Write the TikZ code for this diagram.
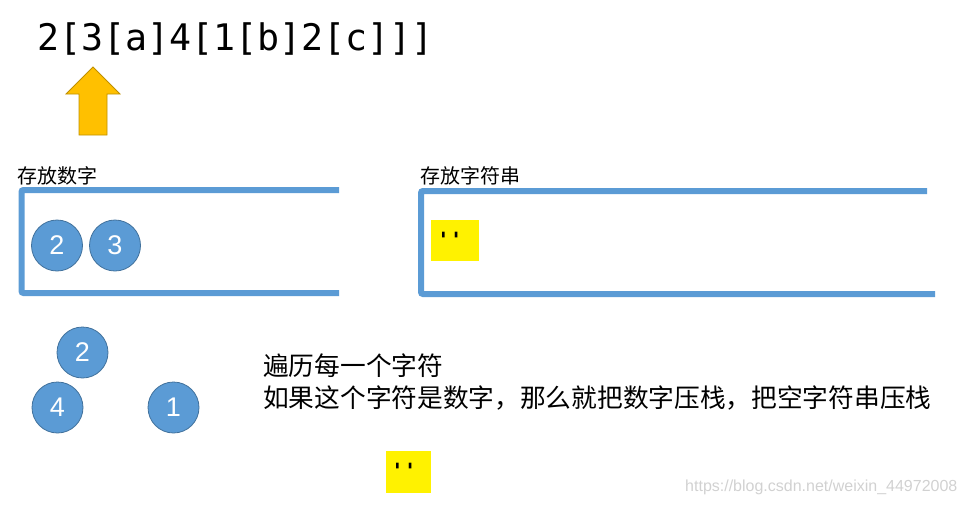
\documentclass[tikz,border=0pt]{standalone}
\usepackage{fontspec}
\setmainfont{Noto Sans CJK SC}
\setsansfont{Liberation Sans}
\setmonofont{DejaVu Sans Mono}
\usetikzlibrary{positioning}
\definecolor{stackblue}{HTML}{5B9BD5}
\definecolor{circedge}{HTML}{41719C}
\definecolor{arrowfill}{HTML}{FFC000}
\definecolor{arrowedge}{HTML}{BF9000}
\tikzset{
	numcirc/.style={circle, fill=stackblue, draw=circedge, line width=0.8pt, text=white, minimum size=51pt, inner sep=0pt, font=\sffamily\fontsize{27}{27}\selectfont},
	strbox/.style={fill=yellow, minimum width=48pt, minimum height=41pt, inner sep=0pt, anchor=north west},
	quotemark/.style={anchor=north west, inner sep=0pt, font=\ttfamily\bfseries\fontsize{21}{21}\selectfont},
	stackline/.style={stackblue, line width=6pt, rounded corners=2pt},
	cjktext/.style={anchor=base west, inner sep=0pt, font=\fontsize{25.7}{30}\selectfont},
	stacklabel/.style={anchor=base west, inner sep=0pt, font=\fontsize{20}{24}\selectfont}
}

\begin{document}
\begin{tikzpicture}[x=1pt, y=-1pt]
	\useasboundingbox (0,0) rectangle (965,504);
	
	%input string and pointer
	\node[anchor=base west, inner sep=0pt, font=\ttfamily\fontsize{36.6}{40}\selectfont] (input) at (37,50) {2[3[a]4[1[b]2[c]]]};
	\draw[fill=arrowfill, draw=arrowedge, line width=0.8pt] (93,67) -- (120,94) -- (107,94) -- (107,135) -- (79,135) -- (79,94) -- (66,94) -- cycle;
	
	%number stack
	\node[stacklabel] (numlbl) at (17,183) {存放数字};
	\draw[stackline] (339,190) -- (21.5,190) -- (21.5,293) -- (339,293);
	\node[numcirc] (n2) at (57,245.5) {2};
	\node[numcirc] (n3) at (115,245.5) {3};
	
	%string stack
	\node[stacklabel] (strlbl) at (420,183) {存放字符串};
	\draw[stackline] (927,191) -- (421,191) -- (421,294) -- (935,294);
	\node[strbox] (s1) at (431,220) {};
		\node[quotemark, below right=12pt and 6pt of s1.north west] (q1) {''};
	
	%loose numbers
	\node[numcirc] (b2) at (82.5,352.5) {2};
	\node[numcirc] (b4) at (57.5,407.5) {4};
	\node[numcirc] (b1) at (173.5,407.5) {1};
	
	%notes
	\node[cjktext] (step1) at (263,375) {遍历每一个字符};
	\node[cjktext] (step2) at (263,407) {如果这个字符是数字，那么就把数字压栈，把空字符串压栈};
	
	%empty string
	\node[strbox, minimum width=45pt, minimum height=42pt] (s2) at (386,451) {};
		\node[quotemark, below right=12pt and 5pt of s2.north west] (q2) {''};
	
	\node[anchor=base west, inner sep=0pt, text=black!18, font=\sffamily\fontsize{16}{16}\selectfont] (mark) at (685,491) {https://blog.csdn.net/weixin\_44972008};
\end{tikzpicture}
\end{document}
